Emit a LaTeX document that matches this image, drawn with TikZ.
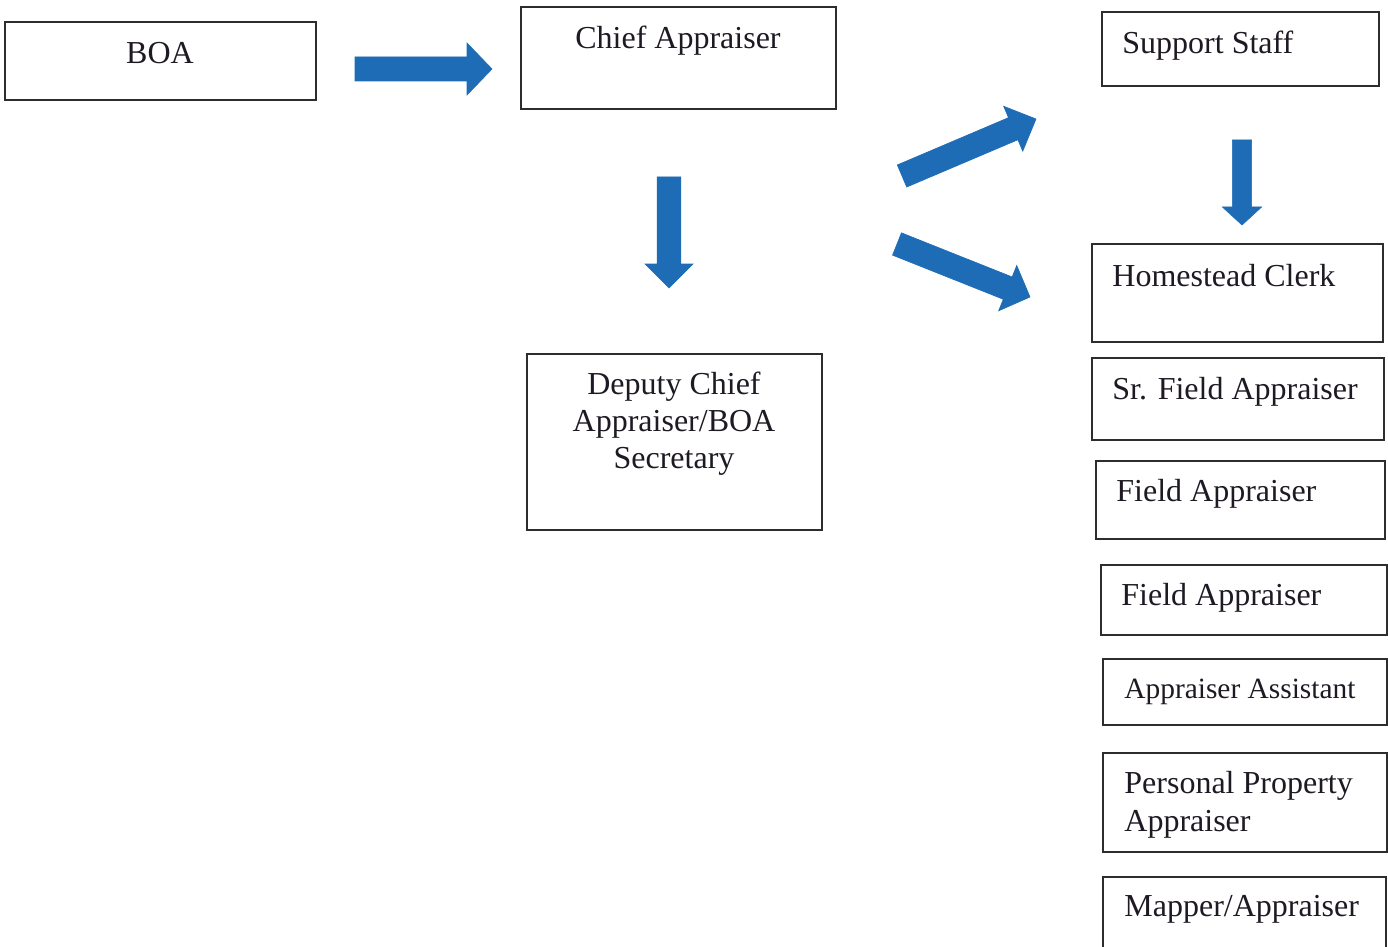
\documentclass[tikz,border=0pt]{standalone}
\usepackage{fontspec}
\setmainfont{Liberation Serif}
\usetikzlibrary{calc,fit}
\definecolor{arrowblue}{RGB}{30,108,182}
\definecolor{boxline}{RGB}{45,45,45}
\definecolor{txt}{RGB}{30,25,35}
\tikzset{
  box/.style={draw=boxline, line width=0.65pt, rectangle, inner sep=0pt},
  lbl/.style={inner sep=0pt, text=txt, font=\fontsize{16pt}{18.5pt}\selectfont},
  blockfill/.style={fill=arrowblue, draw=arrowblue, line width=0.3pt, line join=miter}
}
\newcommand\blockarrow[5]{%
  \path[blockfill] ($(#1)!#3!90:(#2)$)
    -- ($($(#2)!#5!(#1)$)!#3!-90:(#1)$)
    -- ($($(#2)!#5!(#1)$)!#4!-90:(#1)$)
    -- (#2)
    -- ($($(#2)!#5!(#1)$)!#4!90:(#1)$)
    -- ($($(#2)!#5!(#1)$)!#3!90:(#1)$)
    -- ($(#1)!#3!-90:(#2)$) -- cycle;%
}
\begin{document}
\begin{tikzpicture}[x=0.5pt,y=-0.5pt]
\useasboundingbox[fill=white] (0,0) rectangle (1388,947);
% boxes
\node[box, fit={(5,22)(316,100)}] (boa) {};
\node[box, fit={(521,7)(836,109)}] (chief) {};
\node[box, fit={(527,354)(822,530)}] (deputy) {};
\node[box, fit={(1102,12)(1379,86)}] (support) {};
\node[box, fit={(1092,244)(1383,342)}] (homestead) {};
\node[box, fit={(1092,358)(1384,440)}] (srfield) {};
\node[box, fit={(1096,461)(1385,539)}] (fieldA) {};
\node[box, fit={(1101,565)(1387,635)}] (fieldB) {};
\node[box, fit={(1103,659)(1387,725)}] (assistant) {};
\node[box, fit={(1103,753)(1387,852)}] (personal) {};
\node[box, fit={(1103,877)(1386,975)}] (mapper) {};
% labels
\node[lbl, anchor=base] (tboa) at (160,64) {BOA};
\node[lbl, anchor=base] (tchief) at (678,49) {Chief Appraiser};
\node[lbl, anchor=north, align=center] (tdeputy) at (674,372) {Deputy Chief\\Appraiser/BOA\\Secretary};
\node[lbl, anchor=base west] (tsupport) at (1122,54) {Support Staff};
\node[lbl, anchor=base west] (thomestead) at (1112,286) {Homestead Clerk};
\node[lbl, anchor=base west] (tsrfield) at (1112,399) {Sr. Field Appraiser};
\node[lbl, anchor=base west] (tfieldA) at (1116,501) {Field Appraiser};
\node[lbl, anchor=base west] (tfieldB) at (1121,605) {Field Appraiser};
\node[lbl, anchor=base west, font=\fontsize{14.7pt}{17pt}\selectfont] (tassistant) at (1124,698) {Appraiser Assistant};
\node[lbl, anchor=north west, align=left, font=\fontsize{16pt}{19pt}\selectfont] (tpersonal) at (1124,771) {Personal Property\\Appraiser};
\node[lbl, anchor=base west] (tmapper) at (1124,916) {Mapper/Appraiser};
% block arrows
\coordinate (a1s) at (355,69);   \coordinate (a1e) at (492,69);
\coordinate (a2s) at (669,177);  \coordinate (a2e) at (669,288);
\coordinate (a3s) at (902,176);  \coordinate (a3e) at (1036,119);
\coordinate (a4s) at (897,244);  \coordinate (a4e) at (1030,297);
\coordinate (a5s) at (1242,140); \coordinate (a5e) at (1242,225);
\blockarrow{a1s}{a1e}{6pt}{13pt}{12.5pt}
\blockarrow{a2s}{a2e}{5.9pt}{12pt}{12pt}
\blockarrow{a3s}{a3e}{6pt}{12.2pt}{12.4pt}
\blockarrow{a4s}{a4e}{6pt}{12.2pt}{12pt}
\blockarrow{a5s}{a5e}{4.8pt}{9.8pt}{9pt}
\end{tikzpicture}
\end{document}
